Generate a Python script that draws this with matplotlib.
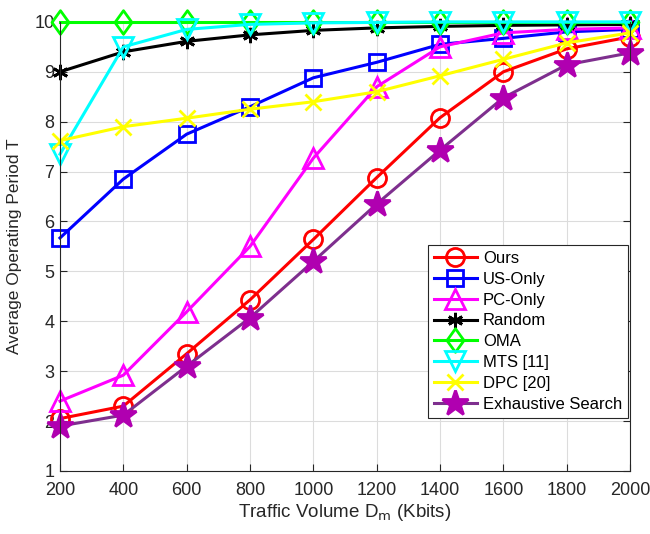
import matplotlib
matplotlib.use("Agg")
import matplotlib.pyplot as plt
from matplotlib.path import Path

plt.rcParams['font.family'] = ['Liberation Sans', 'DejaVu Sans']

traffic = [200, 400, 600, 800, 1000, 1200, 1400, 1600, 1800, 2000]

ours = [2.05, 2.3, 3.35, 4.43, 5.64, 6.88, 8.08, 9.0, 9.46, 9.7]
us_only = [5.67, 6.85, 7.75, 8.3, 8.88, 9.19, 9.55, 9.67, 9.8, 9.85]
pc_only = [2.4, 2.92, 4.19, 5.5, 7.27, 8.7, 9.5, 9.78, 9.85, 9.88]
random_sel = [9.0, 9.4, 9.61, 9.74, 9.83, 9.88, 9.91, 9.93, 9.94, 9.95]
oma = [10.0] * 10
mts = [7.35, 9.5, 9.85, 9.95, 9.98, 9.99, 10.0, 10.0, 10.0, 10.0]
dpc = [7.62, 7.9, 8.07, 8.25, 8.4, 8.6, 8.92, 9.25, 9.58, 9.78]
exhaustive = [1.9, 2.12, 3.1, 4.07, 5.2, 6.35, 7.43, 8.48, 9.14, 9.38]

# tall diamond marker
diamond = Path([(0, 1), (0.72, 0), (0, -1), (-0.72, 0), (0, 1)],
               [Path.MOVETO, Path.LINETO, Path.LINETO, Path.LINETO, Path.CLOSEPOLY])

series = [
    ("Ours", ours, dict(color="#FF0000", marker="o", mfc="none", ms=13)),
    ("US-Only", us_only, dict(color="#0000FF", marker="s", mfc="none", ms=11)),
    ("PC-Only", pc_only, dict(color="#FF00FF", marker="^", mfc="none", ms=14)),
    ("Random", random_sel, dict(color="#000000", marker=(6, 2, 0), ms=11)),
    ("OMA", oma, dict(color="#00FF00", marker=diamond, mfc="none", ms=17)),
    ("MTS [11]", mts, dict(color="#00FFFF", marker="v", mfc="none", ms=14)),
    ("DPC [20]", dpc, dict(color="#FFFF00", marker="x", ms=11)),
    ("Exhaustive Search", exhaustive,
     dict(color="#7E2F8E", marker="*", mfc="#B000B0", mec="#B000B0", ms=19)),
]

fig = plt.figure(figsize=(6.5, 5.34), dpi=100)
ax = fig.add_axes([0.0923, 0.118, 0.877, 0.841])

for label, vals, style in series:
    ax.plot(traffic, vals, label=label, linewidth=2.2,
            markeredgewidth=2.0, clip_on=False, **style)

ax.set_xlim(200, 2000)
ax.set_ylim(1, 10)
ax.set_xticks(traffic)
ax.set_yticks(range(1, 11))
ax.tick_params(direction="in", labelsize=13, length=5, colors="#262626",
               top=False, right=True)
ax.tick_params(axis="x", pad=8)
ax.tick_params(axis="y", pad=4)
for sp in ax.spines.values():
    sp.set_color("#262626")
    sp.set_linewidth(0.8)
ax.spines["top"].set_visible(False)
ax.grid(True, color="#DCDCDC", linewidth=0.8)
ax.set_axisbelow(True)

ax.set_xlabel("Traffic Volume D$_{\\mathrm{m}}$ (Kbits)", fontsize=13.5,
              color="#262626", labelpad=2)
ax.set_ylabel("Average Operating Period T", fontsize=12.5, color="#262626",
              labelpad=9)

leg = ax.legend(loc="upper right", bbox_to_anchor=(0.9965, 0.503),
                fontsize=12, frameon=True, fancybox=False,
                edgecolor="#262626", framealpha=1, borderpad=0.35,
                labelspacing=0.35, handlelength=2.6, handletextpad=0.35,
                borderaxespad=0)
leg.get_frame().set_linewidth(0.8)
leg.set_zorder(5)

fig.savefig("out.png", dpi=100)
